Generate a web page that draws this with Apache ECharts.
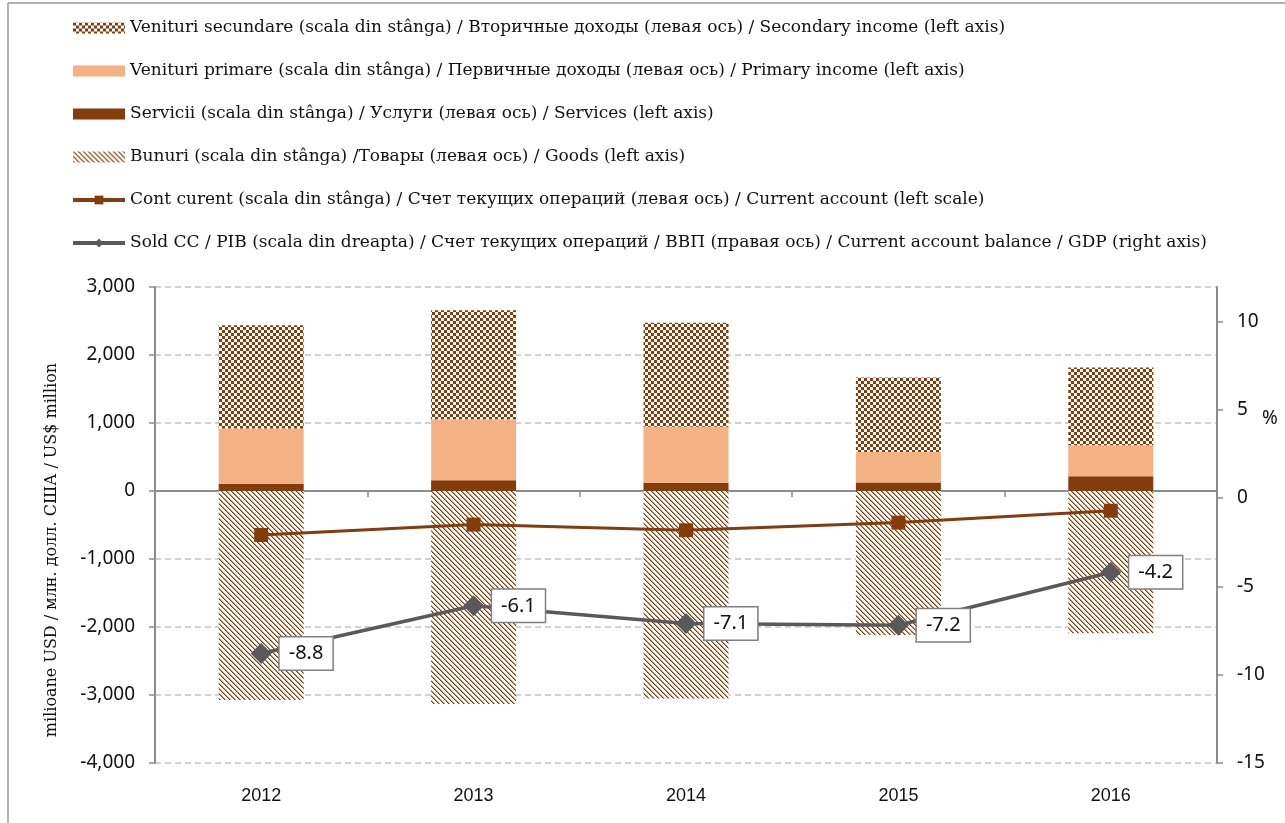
<!DOCTYPE html>
<html>
<head>
<meta charset="utf-8">
<script src="https://cdn.jsdelivr.net/npm/echarts@6/dist/echarts.min.js"></script>
<style>
  html, body { margin: 0; padding: 0; background: #fff; }
  #chart { width: 1285px; height: 823px; }
</style>
</head>
<body>
<div id="chart"></div>
<script>
// ---------- data ----------
const years = ['2012', '2013', '2014', '2015', '2016'];

// milioane USD (left axis)
const secondaryIncome = [1519, 1603, 1529, 1094, 1143];
const primaryIncome   = [810, 897, 824, 450, 456];
const services        = [108, 157, 122, 124, 216];
const goods           = [-3075, -3132, -3053, -2118, -2093];
const currentAccount  = [-647, -494, -578, -465, -290];

// % of GDP (right axis)
const caToGdp = [-8.8, -6.1, -7.1, -7.2, -4.2];

const rightTicks = [-15, -10, -5, 0, 5, 10];

const names = {
  secondary: 'Venituri secundare (scala din stânga) / Вторичные доходы (левая ось) / Secondary income (left axis)',
  primary:   'Venituri primare (scala din stânga) / Первичные доходы (левая ось) / Primary income (left axis)',
  services:  'Servicii (scala din stânga) / Услуги (левая ось) / Services (left axis)',
  goods:     'Bunuri (scala din stânga) /Товары (левая ось) / Goods (left axis)',
  ca:        'Cont curent (scala din stânga) / Счет текущих операций (левая ось) / Current account (left scale)',
  caGdp:     'Sold CC / PIB (scala din dreapta) / Счет текущих операций / ВВП (правая ось) / Current account balance / GDP (right axis)'
};

// ---------- colours & patterns ----------
const BROWN = '#843C0C';
const SALMON = '#F4B183';
const GREY = '#595959';

function checkerPattern() {
  const c = document.createElement('canvas');
  c.width = 6; c.height = 6;
  const ctx = c.getContext('2d');
  ctx.fillStyle = '#fff';
  ctx.fillRect(0, 0, 6, 6);
  ctx.fillStyle = BROWN;
  ctx.fillRect(0, 0, 3, 3);
  ctx.fillRect(3, 3, 3, 3);
  return { image: c, repeat: 'repeat' };
}

function hatchPattern() {
  const c = document.createElement('canvas');
  c.width = 5; c.height = 5;
  const ctx = c.getContext('2d');
  ctx.fillStyle = '#fff';
  ctx.fillRect(0, 0, 5, 5);
  for (let i = 0; i < 5; i++) {
    ctx.fillStyle = BROWN;
    ctx.fillRect(i, i, 1, 1);
    ctx.fillStyle = '#C9906A';
    ctx.fillRect((i + 1) % 5, i, 1, 1);
  }
  return { image: c, repeat: 'repeat' };
}

const chart = echarts.init(document.getElementById('chart'));

const SERIF = '"DejaVu Serif", "Liberation Serif", serif';
const SANS = '"Noto Sans", "Open Sans", sans-serif';

const option = {
  backgroundColor: '#fff',
  animation: false,
  grid: { left: 155, right: 68, top: 287, bottom: 60 },
  legend: {
    orient: 'vertical',
    left: 71,
    top: 18,
    padding: 0,
    itemWidth: 52,
    itemHeight: 11,
    itemGap: 23,
    textStyle: { fontFamily: SERIF, fontSize: 17, color: '#111', lineHeight: 20 },
    data: [
      { name: names.secondary, icon: 'rect' },
      { name: names.primary, icon: 'rect' },
      { name: names.services, icon: 'rect' },
      { name: names.goods, icon: 'rect' },
      { name: names.ca, lineStyle: { width: 4 } },
      { name: names.caGdp, lineStyle: { width: 4 } }
    ]
  },
  xAxis: [
    {
      // zero line with category boundary ticks
      type: 'category',
      data: years,
      position: 'top',
      axisLine: { onZero: true, lineStyle: { color: '#8C8C8C', width: 2 } },
      axisTick: { show: true, inside: true, length: 6, lineStyle: { color: '#8C8C8C', width: 1.5 } },
      axisLabel: { show: false }
    },
    {
      type: 'category',
      data: years,
      position: 'bottom',
      axisLine: { show: false, onZero: false },
      axisTick: { show: false },
      axisLabel: { fontFamily: '"Liberation Sans Narrow", sans-serif', fontSize: 18, color: '#111', margin: 24 }
    }
  ],
  yAxis: [
    {
      type: 'value',
      min: -4000, max: 3000, interval: 1000,
      axisLine: { show: true, lineStyle: { color: '#8C8C8C', width: 2 } },
      axisTick: { show: true, length: 6, lineStyle: { color: '#8C8C8C', width: 1.5 } },
      axisLabel: {
        fontFamily: SANS, fontSize: 19, color: '#111', margin: 20,
        formatter: v => v.toLocaleString('en-US')
      },
      splitLine: { show: true, lineStyle: { color: '#C4C4C4', type: [6, 4], width: 1.5 } }
    },
    {
      type: 'value',
      min: -15, max: 11.95,
      axisLine: { show: true, lineStyle: { color: '#8C8C8C', width: 2 } },
      axisTick: { show: true, length: 6, customValues: rightTicks, lineStyle: { color: '#8C8C8C', width: 1.5 } },
      axisLabel: {
        fontFamily: SANS, fontSize: 19, color: '#111', margin: 20,
        customValues: rightTicks
      },
      splitLine: { show: false }
    }
  ],
  graphic: [
    { type: 'line', shape: { x1: 8, y1: 3, x2: 1285, y2: 3 }, style: { stroke: '#999', lineWidth: 1.5 } },
    { type: 'line', shape: { x1: 8, y1: 3, x2: 8, y2: 823 }, style: { stroke: '#999', lineWidth: 1.5 } },
    {
      type: 'text', x: 52, y: 550, rotation: Math.PI / 2,
      style: {
        text: 'milioane USD / млн. долл. США / US$ million',
        font: '16px ' + SERIF, fill: '#111', align: 'center', verticalAlign: 'middle'
      }
    },
    {
      type: 'text', x: 1270, y: 419,
      style: { text: '%', font: '19px ' + SANS, fill: '#111', align: 'center', verticalAlign: 'middle' }
    }
  ],
  series: [
    {
      name: names.services, type: 'bar', stack: 'total', barWidth: 85,
      itemStyle: { color: BROWN }, data: services
    },
    {
      name: names.primary, type: 'bar', stack: 'total', barWidth: 85,
      itemStyle: { color: SALMON }, data: primaryIncome
    },
    {
      name: names.secondary, type: 'bar', stack: 'total', barWidth: 85,
      itemStyle: { color: checkerPattern() }, data: secondaryIncome
    },
    {
      name: names.goods, type: 'bar', stack: 'total', barWidth: 85,
      itemStyle: { color: hatchPattern() }, data: goods
    },
    {
      name: names.ca, type: 'line', yAxisIndex: 0, z: 5,
      symbol: 'rect', symbolSize: 14,
      lineStyle: { color: BROWN, width: 3 },
      itemStyle: { color: BROWN },
      data: currentAccount
    },
    {
      name: names.caGdp, type: 'line', yAxisIndex: 1, z: 6,
      symbol: 'diamond', symbolSize: 21,
      lineStyle: { color: GREY, width: 3.5 },
      itemStyle: { color: GREY },
      label: {
        show: true, position: 'right', distance: 8,
        formatter: p => p.value.toFixed(1),
        fontFamily: SANS, fontSize: 20, color: '#111',
        backgroundColor: '#fff', borderColor: '#7F7F7F', borderWidth: 1.5,
        padding: [7, 9, 5, 9]
      },
      data: caToGdp
    }
  ]
};

chart.setOption(option);
</script>
</body>
</html>
